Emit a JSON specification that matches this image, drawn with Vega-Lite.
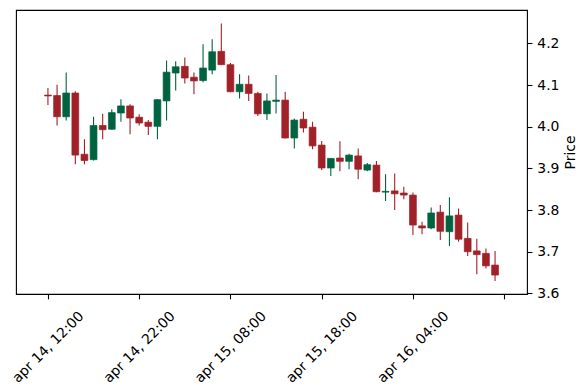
{
  "$schema": "https://vega.github.io/schema/vega-lite/v6.json",
  "width": 511,
  "height": 284,
  "autosize": {"type": "none"},
  "padding": {"left": 16, "top": 10, "right": 60, "bottom": 96},
  "background": "white",
  "config": {"font": "DejaVu Sans", "view": {"stroke": "black", "strokeWidth": 1.1}},
  "data": {"values": [
    {"t": "2024-04-14T12:00:00Z", "open": 4.076, "high": 4.093, "low": 4.052, "close": 4.074},
    {"t": "2024-04-14T13:00:00Z", "open": 4.075, "high": 4.101, "low": 4.003, "close": 4.024},
    {"t": "2024-04-14T14:00:00Z", "open": 4.024, "high": 4.130, "low": 4.015, "close": 4.081},
    {"t": "2024-04-14T15:00:00Z", "open": 4.081, "high": 4.085, "low": 3.910, "close": 3.932},
    {"t": "2024-04-14T16:00:00Z", "open": 3.934, "high": 3.970, "low": 3.910, "close": 3.919},
    {"t": "2024-04-14T17:00:00Z", "open": 3.921, "high": 4.024, "low": 3.919, "close": 4.003},
    {"t": "2024-04-14T18:00:00Z", "open": 4.003, "high": 4.031, "low": 3.970, "close": 3.993},
    {"t": "2024-04-14T19:00:00Z", "open": 3.994, "high": 4.042, "low": 3.993, "close": 4.034},
    {"t": "2024-04-14T20:00:00Z", "open": 4.033, "high": 4.066, "low": 4.012, "close": 4.050},
    {"t": "2024-04-14T21:00:00Z", "open": 4.050, "high": 4.054, "low": 3.982, "close": 4.021},
    {"t": "2024-04-14T22:00:00Z", "open": 4.023, "high": 4.030, "low": 4.003, "close": 4.009},
    {"t": "2024-04-14T23:00:00Z", "open": 4.011, "high": 4.016, "low": 3.980, "close": 4.001},
    {"t": "2024-04-15T00:00:00Z", "open": 4.001, "high": 4.066, "low": 3.970, "close": 4.065},
    {"t": "2024-04-15T01:00:00Z", "open": 4.062, "high": 4.159, "low": 4.015, "close": 4.131},
    {"t": "2024-04-15T02:00:00Z", "open": 4.129, "high": 4.157, "low": 4.087, "close": 4.144},
    {"t": "2024-04-15T03:00:00Z", "open": 4.145, "high": 4.166, "low": 4.104, "close": 4.117},
    {"t": "2024-04-15T04:00:00Z", "open": 4.119, "high": 4.130, "low": 4.078, "close": 4.110},
    {"t": "2024-04-15T05:00:00Z", "open": 4.111, "high": 4.198, "low": 4.107, "close": 4.141},
    {"t": "2024-04-15T06:00:00Z", "open": 4.136, "high": 4.210, "low": 4.126, "close": 4.180},
    {"t": "2024-04-15T07:00:00Z", "open": 4.181, "high": 4.248, "low": 4.148, "close": 4.149},
    {"t": "2024-04-15T08:00:00Z", "open": 4.149, "high": 4.153, "low": 4.083, "close": 4.084},
    {"t": "2024-04-15T09:00:00Z", "open": 4.084, "high": 4.126, "low": 4.068, "close": 4.102},
    {"t": "2024-04-15T10:00:00Z", "open": 4.102, "high": 4.123, "low": 4.062, "close": 4.080},
    {"t": "2024-04-15T11:00:00Z", "open": 4.080, "high": 4.084, "low": 4.026, "close": 4.031},
    {"t": "2024-04-15T12:00:00Z", "open": 4.031, "high": 4.080, "low": 4.016, "close": 4.062},
    {"t": "2024-04-15T13:00:00Z", "open": 4.061, "high": 4.124, "low": 4.032, "close": 4.064},
    {"t": "2024-04-15T14:00:00Z", "open": 4.064, "high": 4.084, "low": 3.972, "close": 3.973},
    {"t": "2024-04-15T15:00:00Z", "open": 3.973, "high": 4.020, "low": 3.948, "close": 4.016},
    {"t": "2024-04-15T16:00:00Z", "open": 4.018, "high": 4.036, "low": 3.986, "close": 3.997},
    {"t": "2024-04-15T17:00:00Z", "open": 3.999, "high": 4.012, "low": 3.946, "close": 3.954},
    {"t": "2024-04-15T18:00:00Z", "open": 3.956, "high": 3.966, "low": 3.896, "close": 3.901},
    {"t": "2024-04-15T19:00:00Z", "open": 3.901, "high": 3.924, "low": 3.882, "close": 3.924},
    {"t": "2024-04-15T20:00:00Z", "open": 3.925, "high": 3.965, "low": 3.893, "close": 3.917},
    {"t": "2024-04-15T21:00:00Z", "open": 3.917, "high": 3.935, "low": 3.898, "close": 3.932},
    {"t": "2024-04-15T22:00:00Z", "open": 3.930, "high": 3.948, "low": 3.874, "close": 3.898},
    {"t": "2024-04-15T23:00:00Z", "open": 3.896, "high": 3.913, "low": 3.893, "close": 3.909},
    {"t": "2024-04-16T00:00:00Z", "open": 3.908, "high": 3.918, "low": 3.843, "close": 3.844},
    {"t": "2024-04-16T01:00:00Z", "open": 3.843, "high": 3.886, "low": 3.822, "close": 3.845},
    {"t": "2024-04-16T02:00:00Z", "open": 3.846, "high": 3.888, "low": 3.800, "close": 3.839},
    {"t": "2024-04-16T03:00:00Z", "open": 3.841, "high": 3.856, "low": 3.826, "close": 3.836},
    {"t": "2024-04-16T04:00:00Z", "open": 3.836, "high": 3.842, "low": 3.740, "close": 3.764},
    {"t": "2024-04-16T05:00:00Z", "open": 3.762, "high": 3.772, "low": 3.742, "close": 3.757},
    {"t": "2024-04-16T06:00:00Z", "open": 3.757, "high": 3.806, "low": 3.754, "close": 3.793},
    {"t": "2024-04-16T07:00:00Z", "open": 3.795, "high": 3.812, "low": 3.728, "close": 3.749},
    {"t": "2024-04-16T08:00:00Z", "open": 3.748, "high": 3.831, "low": 3.714, "close": 3.786},
    {"t": "2024-04-16T09:00:00Z", "open": 3.788, "high": 3.804, "low": 3.724, "close": 3.730},
    {"t": "2024-04-16T10:00:00Z", "open": 3.732, "high": 3.770, "low": 3.690, "close": 3.700},
    {"t": "2024-04-16T11:00:00Z", "open": 3.702, "high": 3.731, "low": 3.646, "close": 3.693},
    {"t": "2024-04-16T12:00:00Z", "open": 3.696, "high": 3.708, "low": 3.660, "close": 3.666},
    {"t": "2024-04-16T13:00:00Z", "open": 3.668, "high": 3.702, "low": 3.630, "close": 3.644}
  ]},
  "encoding": {
    "x": {
      "field": "t",
      "type": "temporal",
      "scale": {"type": "utc", "domain": [1713083400000, 1713285000000], "padding": 0},
      "axis": {
        "values": [1713096000000, 1713132000000, 1713168000000, 1713204000000, 1713240000000, 1713276000000],
        "labelExpr": "datum.value >= 1713270000000 ? '' : lower(utcFormat(datum.value, '%b %-d, %H:%M'))",
        "title": null,
        "grid": false,
        "domain": false,
        "ticks": true,
        "tickColor": "black",
        "tickSize": 4.9,
        "tickWidth": 1.1,
        "labelAngle": -45,
        "labelAlign": "center",
        "labelBaseline": "middle",
        "labelPadding": 48,
        "labelFontSize": 13.9,
        "labelColor": "black",
        "labelOverlap": false,
        "labelFlush": false,
        "labelBound": false
      }
    }
  },
  "layer": [
    {
      "mark": {"type": "rule", "strokeWidth": 1.1},
      "encoding": {
        "y": {
          "field": "low",
          "type": "quantitative",
          "scale": {"domain": [3.5985, 4.2803], "zero": false, "nice": false},
          "axis": {
            "orient": "right",
            "values": [3.6, 3.7, 3.8, 3.9, 4.0, 4.1, 4.2],
            "format": ".1f",
            "grid": false,
            "domain": false,
            "tickColor": "black",
            "tickSize": 4.9,
            "tickWidth": 1.1,
            "labelPadding": 4.9,
            "labelFontSize": 13.9,
            "labelColor": "black",
            "labelBaseline": "middle",
            "title": "Price",
            "titleFontSize": 13.9,
            "titleFontWeight": "normal",
            "titleColor": "black",
            "titleAngle": 270,
            "titlePadding": 19
          }
        },
        "y2": {"field": "high"},
        "color": {"condition": {"test": "datum.close >= datum.open", "value": "#006340"}, "value": "#a02128"}
      }
    },
    {
      "mark": {"type": "bar", "size": 6.8, "strokeWidth": 0.7},
      "encoding": {
        "y": {"field": "open", "type": "quantitative"},
        "y2": {"field": "close"},
        "color": {"condition": {"test": "datum.close >= datum.open", "value": "#006340"}, "value": "#a02128"},
        "stroke": {"condition": {"test": "datum.close >= datum.open", "value": "#006340"}, "value": "#a02128"}
      }
    }
  ]
}
